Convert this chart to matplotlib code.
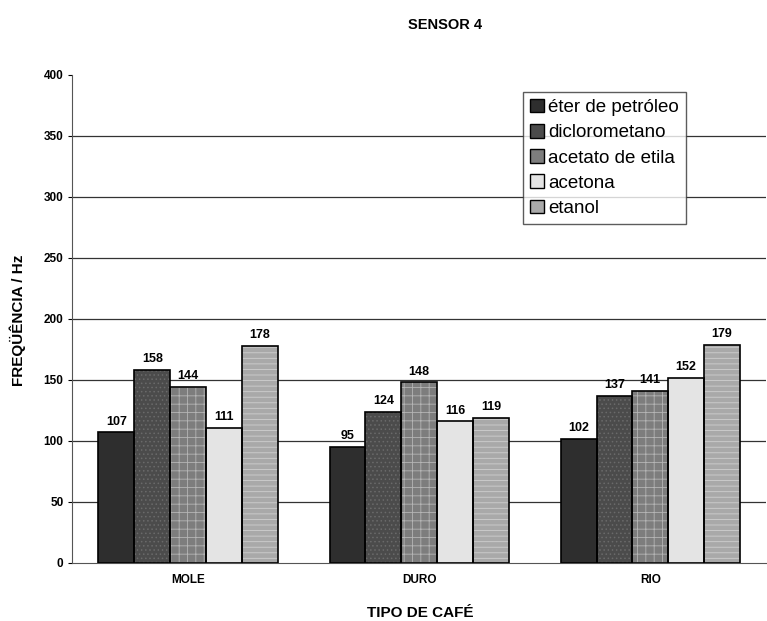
import matplotlib
matplotlib.use("Agg")
import matplotlib.pyplot as plt
from matplotlib.patches import Patch
import numpy as np

# data
categories = ["MOLE", "DURO", "RIO"]
solvents = ["éter de petróleo", "diclorometano", "acetato de etila", "acetona", "etanol"]
eter = [107, 95, 102]
dicloro = [158, 124, 137]
acetato = [144, 148, 141]
acetona = [111, 116, 152]
etanol = [178, 119, 179]
yticks = [0, 50, 100, 150, 200, 250, 300, 350, 400]

series = [eter, dicloro, acetato, acetona, etanol]
faces = ["#2e2e2e", "#4b4b4b", "#7d7d7d", "#e4e4e4", "#a9a9a9"]
hatches = [None, "....", "++", None, "---"]
hatch_cols = [None, "#6a6a6a", "#b5b5b5", None, "#cfcfcf"]

plt.rcParams["font.family"] = ["Liberation Sans", "DejaVu Sans"]
plt.rcParams["hatch.linewidth"] = 0.6

fig = plt.figure(figsize=(7.67, 6.21), dpi=100)
ax = fig.add_axes([0.0945, 0.0934, 0.904, 0.786])

x = np.arange(len(categories))
w = 0.155
for i, (vals, fc, h, hc) in enumerate(zip(series, faces, hatches, hatch_cols)):
    pos = x + (i - 2) * w
    ax.bar(pos, vals, w, color=fc, edgecolor="none", zorder=2)
    if h:
        ax.bar(pos, vals, w, color="none", edgecolor=hc, hatch=h, lw=0, zorder=3)
    ax.bar(pos, vals, w, color="none", edgecolor="black", lw=1.2, zorder=4)
    for p, v in zip(pos, vals):
        ax.text(p, v + 4, str(v), ha="center", va="bottom", fontsize=9,
                fontweight="bold", zorder=5)

ax.set_xlim(-0.5, 2.5)
ax.set_ylim(0, 400)
ax.set_yticks(yticks)
ax.set_xticks(x)
ax.set_xticklabels(categories)
ax.tick_params(axis="both", labelsize=8.5, length=3, width=0.8)
for lab in ax.get_xticklabels() + ax.get_yticklabels():
    lab.set_fontweight("bold")
ax.tick_params(axis="x", length=0, pad=8)
# gridlines below the top (no line at 400 in the reference)
for yv in yticks[1:-1]:
    ax.axhline(yv, color="#333333", lw=0.9, zorder=0)
for side in ("top", "right"):
    ax.spines[side].set_visible(False)
ax.spines["left"].set_color("#555555")
ax.spines["bottom"].set_color("#555555")

# legend with face swatches
handles = [Patch(facecolor=fc, edgecolor="black", lw=1.0) for fc in faces]
leg = ax.legend(handles, solvents, loc="upper left", bbox_to_anchor=(0.65, 0.965),
                fontsize=13.5, frameon=True, fancybox=False, edgecolor="#333333",
                handlelength=0.75, handleheight=0.75, handletextpad=0.25,
                labelspacing=0.42, borderpad=0.35, borderaxespad=0)
leg.get_frame().set_linewidth(1.0)

fig.text(445 / 767, 1 - 25 / 621, "SENSOR 4", ha="center", va="center",
         fontsize=10.5, fontweight="bold")
fig.text(420 / 767, 1 - 613 / 621, "TIPO DE CAFÉ", ha="center", va="center",
         fontsize=11, fontweight="bold")
fig.text(18 / 767, 1 - 320 / 621, "FREQÜÊNCIA / Hz", ha="center", va="center",
         rotation=90, fontsize=11, fontweight="bold")

fig.savefig("out.png", dpi=100)
